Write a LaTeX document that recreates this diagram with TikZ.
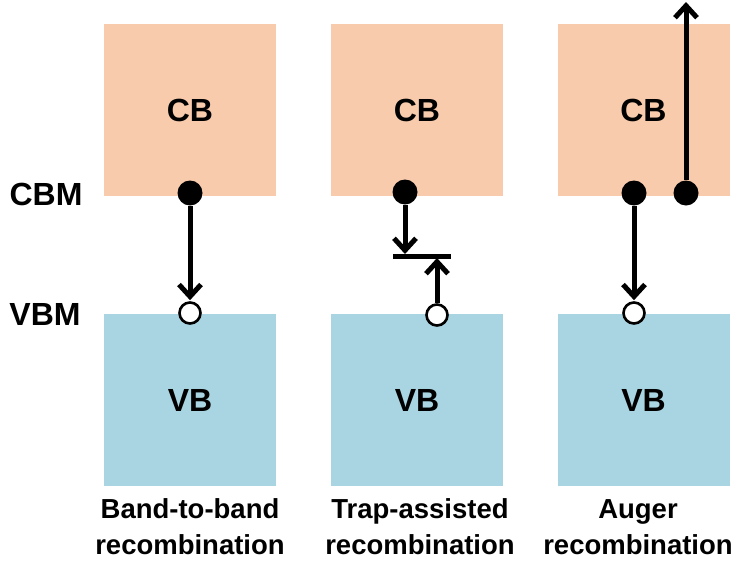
\documentclass[tikz,border=0pt]{standalone}
\usepackage{fontspec}
\setmainfont{Liberation Sans}
\usetikzlibrary{arrows.meta, positioning}
\definecolor{cbcolor}{RGB}{248,203,173}
\definecolor{vbcolor}{RGB}{168,213,225}

\tikzset{
  band/.style={minimum width=172pt, minimum height=172pt, inner sep=0pt,
    font=\fontsize{32}{36}\selectfont\bfseries},
  electron/.style={circle, fill=black, minimum size=25pt, inner sep=0pt},
  hole/.style={circle, draw=black, fill=white, line width=2.6pt, minimum size=21pt, inner sep=0pt},
  jump/.style={line width=5pt, -{Straight Barb[length=12pt,width=22pt]}},
  level/.style={font=\fontsize{32}{36}\selectfont\bfseries},
  caption/.style={align=center, font=\fontsize{27.5}{36}\selectfont\bfseries}
}

\begin{document}
\begin{tikzpicture}[x=1pt, y=-1pt]
      \useasboundingbox (0,0) rectangle (732,563);

      % bands
      \node[band, fill=cbcolor] (cb1) at (190,110) {CB};
      \node[band, fill=vbcolor] (vb1) at (190,400) {VB};
      \node[band, fill=cbcolor] (cb2) at (417,110) {CB};
      \node[band, fill=vbcolor] (vb2) at (417,400) {VB};
      \node[band, fill=cbcolor] (cb3) at (643.5,110) {CB};
      \node[band, fill=vbcolor] (vb3) at (643.5,400) {VB};

      \node[level] (cbm) at (46,194) {CBM};
      \node[level] (vbm) at (45,314) {VBM};

      % band-to-band
      \node[electron] (e1) at (190,193) {};
      \node[hole] (h1) at (190,313) {};
      \draw[jump, shorten >=1pt] (e1.south) -- (h1.north);

      % trap-assisted
      \node[electron] (e2) at (405,192) {};
      \node[hole] (h2) at (437,315) {};
      \coordinate (trapl) at (393,256);
      \coordinate (trapr) at (451,256);
      \coordinate (trapa) at (405,254);
      \coordinate (trapb) at (437,258);
      \draw[line width=5pt] (trapl) -- (trapr);
      \draw[jump] (e2.south) -- (trapa);
      \draw[jump] (h2.north) -- (trapb);

      % auger
      \node[electron] (e3) at (634,193) {};
      \node[electron] (e4) at (686,193) {};
      \node[hole] (h3) at (634,313) {};
      \coordinate (out) at (686,2);
      \draw[jump, shorten >=1pt] (e3.south) -- (h3.north);
      \draw[jump] (e4.north) -- (out);

      % captions
      \node[caption] (c1) at (190,527) {Band-to-band\\recombination};
      \node[caption] (c2) at (420,527) {Trap-assisted\\recombination};
      \node[caption] (c3) at (638,527) {Auger\\recombination};
\end{tikzpicture}
\end{document}
